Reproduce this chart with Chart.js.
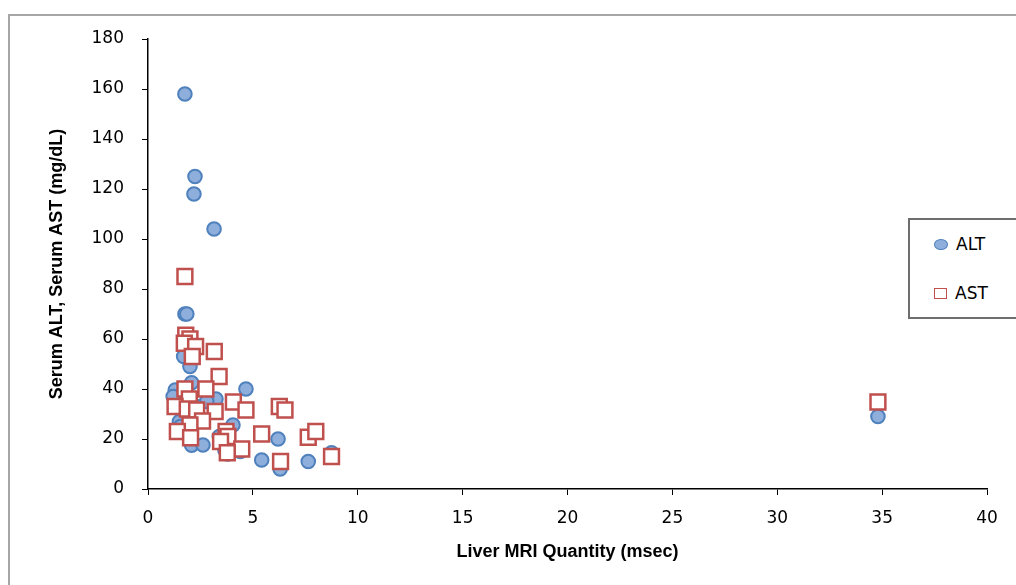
<!DOCTYPE html>
<html>
<head>
<meta charset="utf-8">
<script src="https://cdn.jsdelivr.net/npm/chart.js@4.4.1/dist/chart.umd.min.js"></script>
<style>
  html, body { margin: 0; padding: 0; background: #fff; overflow: hidden; }
  #wrap { position: relative; width: 1016px; height: 585px; }
  #frame { position: absolute; left: 8px; top: 14px; width: 1100px; height: 700px; border: 2px solid #a6a6a6; box-sizing: border-box; }
  #myScatter { position: absolute; left: 0; top: 0; }
  #legend { position: absolute; left: 908px; top: 218px; width: 120px; height: 101px; border: 2px solid #6e6e6e; box-sizing: border-box; background: #fff; font-family: "DejaVu Sans", sans-serif; font-size: 17px; color: #000; }
  .item { position: absolute; left: 24px; display: flex; align-items: center; }
  .mark { display: inline-block; margin-right: 8px; box-sizing: border-box; }
</style>
</head>
<body>
<div id="wrap">
  <div id="frame"></div>
  <canvas id="myScatter" width="1016" height="585"></canvas>
  <div id="legend"></div>
</div>
<script>
// Liver MRI quantity (msec) vs serum ALT
var altX = [1.76, 2.24, 2.19, 3.15, 1.76, 1.85, 1.7, 2.0, 2.08, 1.3, 1.2, 4.67, 3.24, 2.8, 1.5, 1.55, 4.05, 2.08, 2.62, 3.4, 3.67, 4.4, 3.8, 5.42, 6.2, 6.3, 7.64, 8.75, 1.4, 2.3, 34.8];
var altY = [158, 125, 118, 104, 70, 70, 53, 49, 42.5, 39.6, 37, 40, 36, 35, 27, 25, 25.6, 17.5, 17.6, 21, 15.5, 15, 14, 11.6, 20, 8, 11, 14.5, 23, 33, 29];

// Liver MRI quantity (msec) vs serum AST
var astX = [1.76, 1.8, 2.0, 1.73, 2.27, 2.11, 3.16, 3.39, 1.76, 2.76, 1.97, 1.29, 1.87, 2.32, 3.2, 4.07, 4.67, 2.6, 2.0, 1.4, 2.03, 3.72, 3.81, 3.46, 4.47, 3.78, 5.42, 6.26, 6.53, 7.64, 8.0, 8.75, 6.32, 34.8];
var astY = [85, 61.5, 60, 58.3, 57, 53, 55, 45, 40, 40, 36, 33, 32, 31.6, 31, 34.8, 31.6, 27.2, 25.6, 23, 20.5, 23, 21, 19, 16, 14.5, 22, 33, 31.6, 20.7, 23, 13, 11, 34.8];

var xTicks = [0, 5, 10, 15, 20, 25, 30, 35, 40];
var yTicks = [0, 20, 40, 60, 80, 100, 120, 140, 160, 180];

function toPoints(xs, ys) {
  return xs.map(function (x, i) { return { x: x, y: ys[i] }; });
}

var ctx = document.getElementById('myScatter').getContext('2d');
var myScatter = new Chart(ctx, {
  type: 'scatter',
  data: {
    datasets: [{
      label: 'ALT',
      data: toPoints(altX, altY),
      pointStyle: 'circle',
      pointRadius: 6.8,
      backgroundColor: 'rgba(142, 174, 219, 1)',
      borderColor: '#4f81bd',
      borderWidth: 2,
      order: 1
    }, {
      label: 'AST',
      data: toPoints(astX, astY),
      pointStyle: 'rect',
      pointRadius: 10.5,
      backgroundColor: '#ffffff',
      borderColor: '#c0504d',
      borderWidth: 2.5,
      order: 0
    }]
  },
  options: {
    responsive: false,
    animation: false,
    events: [],
    layout: { padding: { left: 0, top: 39, right: 29, bottom: 0 } },
    plugins: {
      legend: { display: false },
      tooltip: { enabled: false }
    },
    scales: {
      x: {
        type: 'linear',
        min: 0,
        max: 40,
        afterBuildTicks: function (scale) { scale.ticks = xTicks.map(function (v) { return { value: v }; }); },
        afterFit: function (scale) { scale.height = 96; },
        grid: { drawOnChartArea: false, drawTicks: true, tickLength: 6, color: '#000' },
        border: { display: true, color: '#000', width: 1.5 },
        ticks: { padding: 13, color: '#000', font: { family: 'DejaVu Sans', size: 17 }, maxRotation: 0 },
        title: {
          display: true,
          text: 'Liver MRI Quantity (msec)',
          color: '#000',
          font: { family: 'Liberation Sans', size: 18, weight: 'bold' },
          padding: { top: 0, bottom: 22 }
        }
      },
      y: {
        type: 'linear',
        min: 0,
        max: 180,
        afterBuildTicks: function (scale) { scale.ticks = yTicks.map(function (v) { return { value: v }; }); },
        afterFit: function (scale) { scale.width = 148; },
        grid: { drawOnChartArea: false, drawTicks: true, tickLength: 6, color: '#000' },
        border: { display: true, color: '#000', width: 1.5 },
        ticks: { padding: 18, color: '#000', font: { family: 'DejaVu Sans', size: 17 } },
        title: {
          display: true,
          text: 'Serum ALT, Serum AST (mg/dL)',
          color: '#000',
          font: { family: 'Liberation Sans', size: 18, weight: 'bold' },
          padding: { top: 46, bottom: 0 }
        }
      }
    }
  }
});

// html legend built from the datasets
var legend = document.getElementById('legend');
var rowTops = [14, 63];
myScatter.data.datasets.forEach(function (ds, i) {
  var item = document.createElement('div');
  item.className = 'item';
  item.style.top = rowTops[i] + 'px';
  var mark = document.createElement('span');
  mark.className = 'mark';
  if (ds.pointStyle === 'circle') {
    mark.style.width = '14px';
    mark.style.height = '11px';
    mark.style.borderRadius = '50%';
    mark.style.background = ds.backgroundColor;
    mark.style.border = '1px solid ' + ds.borderColor;
  } else {
    mark.style.width = '13px';
    mark.style.height = '11px';
    mark.style.background = '#fff';
    mark.style.border = '1.5px solid ' + ds.borderColor;
  }
  item.appendChild(mark);
  item.appendChild(document.createTextNode(ds.label));
  legend.appendChild(item);
});
</script>
</body>
</html>
